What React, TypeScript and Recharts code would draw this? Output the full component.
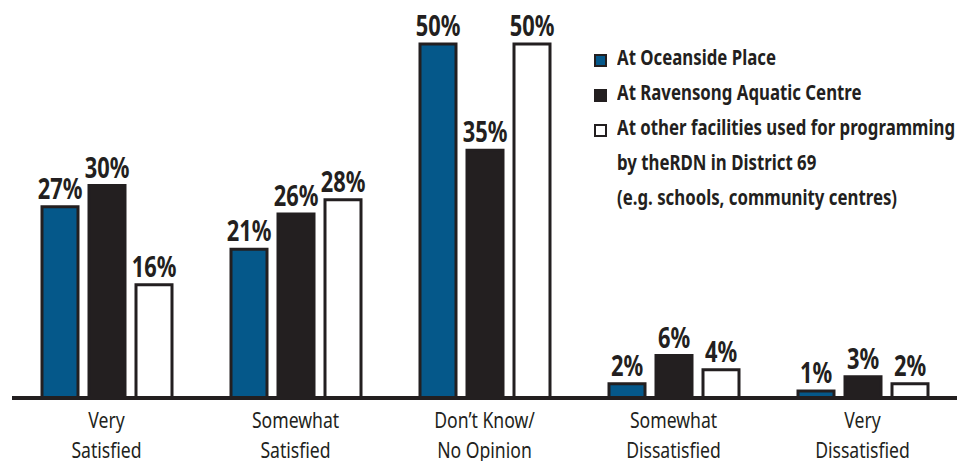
import React from "react";
import { BarChart, Bar, XAxis, YAxis, Legend, LabelList } from "recharts";

const categories = ["Very\nSatisfied", "Somewhat\nSatisfied", "Don\u2019t Know/\nNo Opinion", "Somewhat\nDissatisfied", "Very\nDissatisfied"];
const oceanside = [27, 21, 50, 2, 1];
const ravensong = [30, 26, 35, 6, 3];
const otherFacilities = [16, 28, 50, 4, 2];

const seriesNames = [
  "At Oceanside Place",
  "At Ravensong Aquatic Centre",
  "At other facilities used for programming\nby theRDN in District 69\n(e.g. schools, community centres)",
];

const data = categories.map((name, i) => ({
  name,
  oceanside: oceanside[i],
  ravensong: ravensong[i],
  other: otherFacilities[i],
}));

// no condensed face installed, so squeeze Noto Sans horizontally
const FONT = "'Noto Sans', 'Open Sans', sans-serif";
const SQUEEZE = 0.8;
const INK = "#231f20";
const BLUE = "#05588a";

function CategoryTick(props: any) {
  const { x, y, payload } = props;
  const lines = String(payload.value).split("\n");
  return (
    <g>
      {lines.map((l, i) => (
        <g key={i} transform={`translate(${x},${y + 30 + i * 30}) scale(${SQUEEZE},1)`}>
          <text x={0} y={0} textAnchor="middle" fontFamily={FONT} fontSize={22} fill={INK}>
            {l}
          </text>
        </g>
      ))}
    </g>
  );
}

function ValueLabel(props: any) {
  const { x, y, width, value } = props;
  const cx = Number(x) + Number(width) / 2;
  return (
    <g transform={`translate(${cx},${Number(y) - 8}) scale(0.78,1)`}>
      <text x={0} y={0} textAnchor="middle" fontFamily={FONT} fontWeight={700} fontSize={28} fill={INK}>
        {value}%
      </text>
    </g>
  );
}

function LegendBox(props: any) {
  const { payload } = props;
  return (
    <div style={{ fontFamily: FONT, fontWeight: 700, fontSize: 21, color: INK, lineHeight: "35px" }}>
      {(payload || []).map((entry: any, i: number) => {
        const lines = String(entry.value).split("\n");
        return (
          <div key={i} style={{ display: "flex", alignItems: "flex-start" }}>
            <span
              style={{
                width: 9,
                height: 9,
                marginTop: 14,
                marginRight: 10,
                border: `2px solid ${INK}`,
                background: entry.color,
                flex: "none",
              }}
            />
            <div style={{ transform: `scaleX(0.8)`, transformOrigin: "left top" }}>
              {lines.map((l, j) => (
                <div key={j} style={{ whiteSpace: "nowrap" }}>{l}</div>
              ))}
            </div>
          </div>
        );
      })}
    </div>
  );
}

export default function App() {
  return (
    <div style={{ position: "absolute", left: 0, top: 0, width: 961, height: 461, background: "#fff", overflow: "hidden" }}>
      <BarChart
        width={961}
        height={461}
        data={data}
        margin={{ top: 44, right: 4, left: 12, bottom: 0 }}
        barSize={36}
        barGap={11}
      >
        <XAxis
          dataKey="name"
          axisLine={{ stroke: INK, strokeWidth: 4 }}
          tickLine={false}
          tickSize={0}
          tickMargin={0}
          height={63}
          interval={0}
          tick={<CategoryTick />}
        />
        <YAxis hide domain={[0, 50]} />
        <Legend
          layout="vertical"
          align="center"
          verticalAlign="middle"
          content={<LegendBox />}
          wrapperStyle={{ left: 594, top: 40, width: 367, height: "auto" }}
        />
        <Bar dataKey="oceanside" name={seriesNames[0]} fill={BLUE} stroke={INK} strokeWidth={3} isAnimationActive={false}>
          <LabelList dataKey="oceanside" content={<ValueLabel />} />
        </Bar>
        <Bar dataKey="ravensong" name={seriesNames[1]} fill={INK} stroke={INK} strokeWidth={3} isAnimationActive={false}>
          <LabelList dataKey="ravensong" content={<ValueLabel />} />
        </Bar>
        <Bar dataKey="other" name={seriesNames[2]} fill="#ffffff" stroke={INK} strokeWidth={3} isAnimationActive={false}>
          <LabelList dataKey="other" content={<ValueLabel />} />
        </Bar>
      </BarChart>
    </div>
  );
}
